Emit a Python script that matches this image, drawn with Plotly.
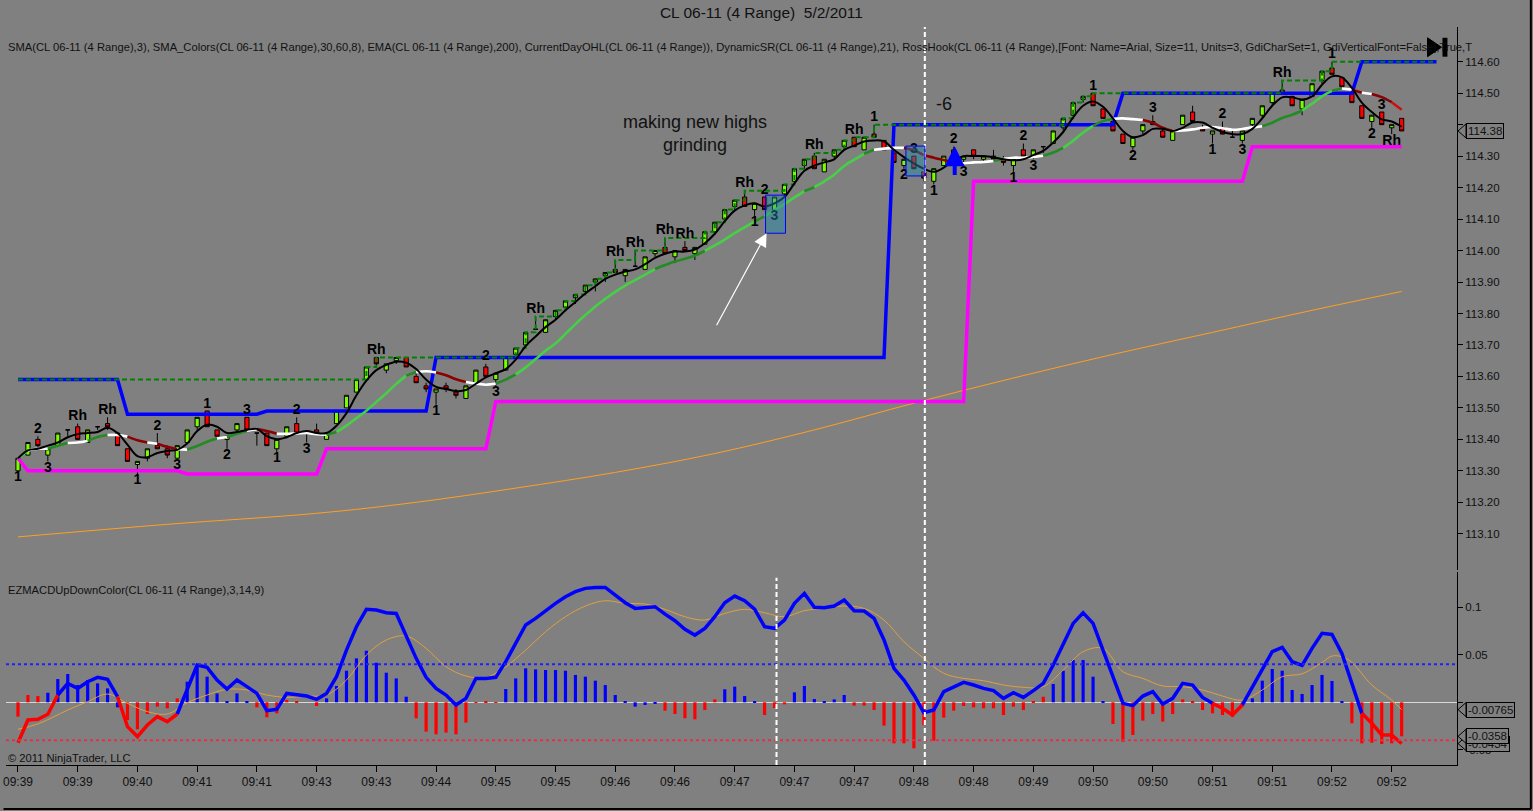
import numpy as np
import pandas as pd
import plotly.graph_objects as go
from plotly.subplots import make_subplots

# ---- CL 06-11, 4 tick range bars, 5/2/2011 ----
opens = [113.30, 113.35, 113.40, 113.35, 113.38, 113.43, 113.44, 113.39, 113.44, 113.45,
         113.42, 113.37, 113.32, 113.34, 113.38, 113.37, 113.34, 113.39, 113.44, 113.49,
         113.43, 113.40, 113.43, 113.47, 113.42, 113.42, 113.37, 113.41, 113.45, 113.42,
         113.43, 113.40, 113.45, 113.50, 113.55, 113.59, 113.66, 113.62, 113.65, 113.66,
         113.60, 113.57, 113.55, 113.57, 113.55, 113.53, 113.58, 113.63, 113.59, 113.62,
         113.67, 113.70, 113.75, 113.74, 113.79, 113.82, 113.85, 113.87, 113.90, 113.92,
         113.94, 113.92, 113.95, 113.94, 113.99, 114.01, 113.98, 114.01, 113.99, 114.02,
         114.06, 114.10, 114.14, 114.17, 114.13, 114.17, 114.13, 114.18, 114.22, 114.27,
         114.30, 114.25, 114.30, 114.33, 114.36, 114.32, 114.37, 114.35, 114.31, 114.27,
         114.30, 114.25, 114.22, 114.27, 114.32, 114.29, 114.32, 114.29, 114.30, 114.29,
         114.27, 114.32, 114.30, 114.33, 114.34, 114.39, 114.43, 114.48, 114.50, 114.45,
         114.41, 114.37, 114.33, 114.38, 114.41, 114.38, 114.35, 114.40, 114.44, 114.39,
         114.37, 114.39, 114.36, 114.35, 114.40, 114.43, 114.47, 114.51, 114.49, 114.45,
         114.49, 114.54, 114.58, 114.55, 114.50, 114.46, 114.41, 114.44, 114.39, 114.42]
highs = [113.34, 113.39, 113.41, 113.37, 113.42, 113.43, 113.45, 113.43, 113.44, 113.47,
         113.42, 113.37, 113.33, 113.37, 113.42, 113.38, 113.38, 113.43, 113.47, 113.49,
         113.43, 113.41, 113.45, 113.47, 113.42, 113.42, 113.40, 113.44, 113.47, 113.42,
         113.45, 113.42, 113.49, 113.54, 113.59, 113.63, 113.66, 113.64, 113.66, 113.66,
         113.61, 113.58, 113.56, 113.58, 113.56, 113.57, 113.62, 113.64, 113.61, 113.66,
         113.69, 113.74, 113.79, 113.78, 113.81, 113.84, 113.86, 113.89, 113.91, 113.93,
         113.97, 113.94, 114.00, 113.98, 114.00, 114.04, 114.00, 114.03, 114.01, 114.06,
         114.09, 114.13, 114.16, 114.19, 114.15, 114.17, 114.17, 114.21, 114.26, 114.29,
         114.31, 114.29, 114.32, 114.35, 114.36, 114.36, 114.40, 114.35, 114.31, 114.29,
         114.30, 114.25, 114.26, 114.30, 114.33, 114.30, 114.32, 114.30, 114.32, 114.30,
         114.29, 114.34, 114.32, 114.33, 114.38, 114.42, 114.47, 114.49, 114.50, 114.45,
         114.41, 114.37, 114.36, 114.40, 114.43, 114.39, 114.38, 114.43, 114.46, 114.40,
         114.38, 114.41, 114.38, 114.38, 114.42, 114.46, 114.50, 114.54, 114.49, 114.48,
         114.53, 114.57, 114.60, 114.55, 114.50, 114.46, 114.43, 114.44, 114.40, 114.42]
lows = [113.30, 113.35, 113.37, 113.33, 113.38, 113.41, 113.40, 113.39, 113.43, 113.43,
        113.38, 113.33, 113.29, 113.33, 113.37, 113.34, 113.34, 113.39, 113.43, 113.44,
        113.41, 113.37, 113.42, 113.43, 113.38, 113.38, 113.36, 113.41, 113.42, 113.39,
        113.42, 113.40, 113.45, 113.50, 113.55, 113.59, 113.63, 113.61, 113.64, 113.63,
        113.58, 113.55, 113.51, 113.55, 113.53, 113.53, 113.58, 113.60, 113.57, 113.62,
        113.66, 113.70, 113.75, 113.74, 113.78, 113.81, 113.83, 113.86, 113.87, 113.90,
        113.93, 113.90, 113.95, 113.94, 113.98, 113.99, 113.96, 114.00, 113.97, 114.02,
        114.05, 114.09, 114.13, 114.14, 114.11, 114.13, 114.13, 114.17, 114.22, 114.26,
        114.26, 114.25, 114.29, 114.32, 114.33, 114.32, 114.36, 114.32, 114.28, 114.26,
        114.26, 114.22, 114.21, 114.27, 114.30, 114.27, 114.29, 114.28, 114.29, 114.27,
        114.25, 114.30, 114.29, 114.31, 114.34, 114.38, 114.43, 114.47, 114.46, 114.42,
        114.38, 114.34, 114.32, 114.37, 114.40, 114.36, 114.35, 114.40, 114.41, 114.38,
        114.34, 114.37, 114.36, 114.34, 114.39, 114.42, 114.46, 114.50, 114.46, 114.43,
        114.49, 114.53, 114.56, 114.52, 114.47, 114.42, 114.39, 114.40, 114.37, 114.38]
closes = [113.34, 113.39, 113.38, 113.37, 113.42, 113.43, 113.40, 113.43, 113.44, 113.44,
          113.38, 113.33, 113.33, 113.37, 113.37, 113.35, 113.38, 113.43, 113.47, 113.44,
          113.41, 113.41, 113.45, 113.43, 113.42, 113.38, 113.40, 113.44, 113.42, 113.42,
          113.42, 113.42, 113.49, 113.54, 113.59, 113.63, 113.64, 113.64, 113.66, 113.63,
          113.58, 113.56, 113.56, 113.56, 113.54, 113.57, 113.62, 113.60, 113.61, 113.66,
          113.69, 113.74, 113.75, 113.78, 113.81, 113.84, 113.86, 113.89, 113.91, 113.93,
          113.93, 113.94, 113.95, 113.98, 114.00, 113.99, 114.00, 114.00, 114.01, 114.06,
          114.09, 114.13, 114.16, 114.14, 114.15, 114.13, 114.17, 114.21, 114.26, 114.29,
          114.26, 114.29, 114.32, 114.35, 114.33, 114.36, 114.36, 114.32, 114.28, 114.29,
          114.26, 114.23, 114.26, 114.30, 114.30, 114.30, 114.30, 114.30, 114.29, 114.28,
          114.29, 114.30, 114.32, 114.33, 114.38, 114.42, 114.47, 114.49, 114.46, 114.42,
          114.38, 114.34, 114.36, 114.40, 114.40, 114.36, 114.38, 114.43, 114.41, 114.38,
          114.38, 114.37, 114.36, 114.38, 114.42, 114.46, 114.50, 114.50, 114.46, 114.48,
          114.53, 114.57, 114.56, 114.52, 114.47, 114.42, 114.43, 114.40, 114.40, 114.38]
n_bars = len(closes)
bars = list(range(n_bars))

tick_bars = list(range(0, 139, 6))
tick_labels = ["09:39", "09:39", "09:40", "09:41", "09:41", "09:43", "09:43", "09:44",
               "09:45", "09:45", "09:46", "09:46", "09:47", "09:47", "09:47", "09:48",
               "09:48", "09:49", "09:50", "09:50", "09:51", "09:51", "09:52", "09:52"]
price_ticks = [113.10, 113.20, 113.30, 113.40, 113.50, 113.60, 113.70, 113.80,
               113.90, 114.00, 114.10, 114.20, 114.30, 114.40, 114.50, 114.60]
price_tick_text = ["113.10", "113.20", "113.30", "113.40", "113.50", "113.60", "113.70",
                   "113.80", "113.90", "114.00", "114.10", "114.20", "114.30", "",
                   "114.50", "114.60"]
macd_ticks = [-0.05, 0, 0.05, 0.1]
macd_tick_text = ["-0.05", "", "0.05", "0.1"]

# EMA(200) at a few bars
ema_bars = [0, 15, 30, 40, 50, 60, 70, 80, 90, 100, 110, 120, 130, 139]
ema_vals = [113.09, 113.13, 113.165, 113.20, 113.245, 113.295, 113.355, 113.43,
            113.515, 113.595, 113.67, 113.74, 113.81, 113.87]

# DynamicSR steps (bar where a level starts)
res_start = [0, 11, 25, 42, 88, 111, 135]
res_level = [113.59, 113.48, 113.49, 113.66, 114.40, 114.50, 114.60]
sup_start = [0, 1, 17, 31, 48, 96, 124]
sup_level = [113.34, 113.30, 113.29, 113.37, 113.52, 114.22, 114.33]
prior_day_high = 113.59

# RossHook labels
above_bars = [2, 6, 9, 14, 19, 23, 28, 36, 47, 52, 60, 62, 65, 67, 73, 75, 80, 84, 86,
              90, 94, 101, 108, 114, 121, 127, 132, 137]
above_text = ["2", "Rh", "Rh", "2", "1", "3", "2", "Rh", "2", "Rh", "Rh", "Rh", "Rh", "Rh",
              "Rh", "2", "Rh", "Rh", "1", "3", "2", "2", "1", "3", "2", "Rh", "1", "3"]
below_bars = [0, 3, 12, 16, 21, 26, 29, 42, 48, 74, 76, 89, 92, 95, 100, 102, 112, 120,
              123, 136, 138]
below_text = ["1", "3", "1", "3", "2", "1", "3", "1", "3", "1", "3", "2", "1", "3", "1",
              "3", "2", "1", "3", "2", "Rh"]

# EZMACDUpDownColor(3,14,9)
macd = [-0.0425, -0.0186, -0.0179, -0.0126, 0.0077, 0.0200, 0.0147, 0.0217, 0.0263, 0.0242,
        0.0059, -0.0256, -0.0361, -0.0239, -0.0151, -0.0203, -0.0123, 0.0130, 0.0393, 0.0368,
        0.0235, 0.0140, 0.0235, 0.0165, 0.0094, -0.0088, -0.0074, 0.0094, 0.0077, 0.0066,
        0.0031, 0.0094, 0.0270, 0.0550, 0.0796, 0.0979, 0.0972, 0.0943, 0.0936, 0.0708,
        0.0463, 0.0263, 0.0147, 0.0077, -0.0028, 0.0042, 0.0252, 0.0252, 0.0263, 0.0428,
        0.0614, 0.0814, 0.0884, 0.0965, 0.1042, 0.1112, 0.1165, 0.1200, 0.1210, 0.1210,
        0.1129, 0.1049, 0.0989, 0.1000, 0.1007, 0.0929, 0.0859, 0.0768, 0.0708, 0.0779,
        0.0902, 0.1049, 0.1119, 0.1070, 0.0980, 0.0796, 0.0779, 0.0866, 0.1042, 0.1147,
        0.1000, 0.0996, 0.1014, 0.1077, 0.0965, 0.0961, 0.0884, 0.0656, 0.0358, 0.0235,
        0.0077, -0.0109, -0.0081, 0.0112, 0.0158, 0.0210, 0.0182, 0.0147, 0.0123, 0.0042,
        0.0102, 0.0052, 0.0123, 0.0200, 0.0393, 0.0614, 0.0831, 0.0943, 0.0831, 0.0550,
        0.0270, -0.0011, -0.0035, 0.0066, 0.0112, -0.0018, 0.0042, 0.0200, 0.0182, 0.0052,
        -0.0011, -0.0063, -0.0134, -0.0028, 0.0165, 0.0358, 0.0533, 0.0579, 0.0428, 0.0390,
        0.0568, 0.0726, 0.0715, 0.0515, 0.0200, -0.0116, -0.0221, -0.0344, -0.0344, -0.0434]
macd_red_from = [0, 10, 120, 135]
macd_red_to = [4, 16, 123, 139]
hist = [-0.0151, 0.0077, 0.0066, 0.0101, 0.0245, 0.0298, 0.0182, 0.0235, 0.0200, 0.0147,
        -0.0053, -0.0186, -0.0284, -0.0123, -0.0046, -0.0063, 0.0042, 0.0217, 0.0375, 0.0270,
        0.0094, 0.0014, 0.0094, 0.0007, -0.0053, -0.0158, -0.0116, 0.0025, 0.0007, 0.0,
        -0.0039, 0.0042, 0.0172, 0.0333, 0.0463, 0.0543, 0.0417, 0.0312, 0.0252, 0.0059,
        -0.0168, -0.0309, -0.0337, -0.0319, -0.0337, -0.0214, -0.0004, 0.0005, -0.0005, 0.0140,
        0.0252, 0.0358, 0.0347, 0.0340, 0.0340, 0.0333, 0.0288, 0.0270, 0.0228, 0.0182,
        0.0077, 0.0005, -0.0046, -0.0028, -0.0010, -0.0088, -0.0123, -0.0168, -0.0179, -0.0081,
        0.0031, 0.0137, 0.0165, 0.0066, 0.0010, -0.0134, -0.0060, -0.0021, 0.0105, 0.0172,
        0.0035, 0.0014, 0.0031, 0.0077, -0.0035, -0.0035, -0.0081, -0.0246, -0.0432, -0.0432,
        -0.0484, -0.0240, -0.0404, -0.0161, -0.0088, -0.0039, -0.0053, -0.0063, -0.0063, -0.0134,
        -0.0046, -0.0081, 0.0005, 0.0059, 0.0193, 0.0333, 0.0445, 0.0445, 0.0270, 0.0005,
        -0.0228, -0.0414, -0.0344, -0.0193, -0.0123, -0.0203, -0.0123, 0.0031, 0.0007, -0.0081,
        -0.0116, -0.0134, -0.0151, -0.0046, 0.0042, 0.0228, 0.0351, 0.0333, 0.0130, 0.0088,
        0.0182, 0.0288, 0.0225, 0.0005, -0.0221, -0.0432, -0.0425, -0.0439, -0.0432, -0.0358]
hist_colors = ("rrrbbbbbbb" "brrrrrrbbb" "bbbbrrrrrr" "rbbbbbbbbb" "rrrrrrrrrb"
               "bbbbbbbbbb" "bbbbbrrrrr" "rbbbbrrrbb" "bbbbrrrrrr" "rrrrrrrrrr"
               "rrrrbbbbbb" "rrrrrrrrrr" "rrrrbbbbbb" "bbbbrrrrrr")
sig_bars = [0, 2, 5, 7, 9, 11, 13, 15, 17, 19, 21, 23, 25, 27, 29, 31, 33, 35, 37, 39,
            41, 43, 45, 47, 49, 51, 53, 55, 57, 59, 61, 63, 65, 67, 69, 71, 73, 75, 77, 79,
            81, 83, 85, 87, 89, 91, 93, 95, 97, 99, 101, 103, 105, 107, 109, 111, 113, 115,
            117, 119, 121, 123, 125, 127, 129, 131, 132, 133, 134, 136, 138, 139]
sig_vals = [-0.0284, -0.0228, -0.0081, 0.0007, 0.0087, -0.0011, -0.0098, -0.0123, -0.0004, 0.0077,
            0.0137, 0.0130, 0.0077, 0.0052, 0.0066, 0.0077, 0.0235, 0.0498, 0.0656, 0.0698,
            0.0568, 0.0375, 0.0277, 0.0263, 0.0375, 0.0550, 0.0743, 0.0901, 0.1014, 0.1070,
            0.1042, 0.1035, 0.0979, 0.0901, 0.0866, 0.0936, 0.0979, 0.0943, 0.0901, 0.0965,
            0.0989, 0.1014, 0.0989, 0.0866, 0.0638, 0.0463, 0.0305, 0.0252, 0.0228, 0.0182,
            0.0158, 0.0165, 0.0340, 0.0533, 0.0568, 0.0322, 0.0252, 0.0172, 0.0165, 0.0130,
            0.0066, 0.0024, 0.0130, 0.0270, 0.0300, 0.0420, 0.0487, 0.0480, 0.0420, 0.0182,
            0.0024, -0.0077]

FONT = "Arial, Liberation Sans, sans-serif"
BG = "#808080"
TXT = "#111111"


def expand_steps(starts, levels, n):
    out, k = [], 0
    for i in range(n):
        while k + 1 < len(starts) and starts[k + 1] <= i:
            k += 1
        out.append(levels[k])
    return out


def add_runs(fig, xs, ys, cols, width, shape, row):
    # one trace per run of equally coloured segments (cols[j] = segment j -> j+1)
    start = 0
    for j in range(1, len(cols) + 1):
        if j == len(cols) or cols[j] != cols[start]:
            fig.add_trace(go.Scatter(x=xs[start:j + 1], y=ys[start:j + 1], mode="lines",
                                     line=dict(color=cols[start], width=width, shape=shape),
                                     hoverinfo="skip"), row=row, col=1)
            start = j


fig = make_subplots(rows=2, cols=1, shared_xaxes=True, vertical_spacing=0.003,
                    row_heights=[0.74, 0.26])

# EMA 200
fig.add_trace(go.Scatter(x=ema_bars, y=ema_vals, mode="lines",
                         line=dict(color="#FFA020", width=1, shape="spline"),
                         hoverinfo="skip"), row=1, col=1)

# DynamicSR
ext = bars + [142.5]
res = expand_steps(res_start, res_level, n_bars)
sup = expand_steps(sup_start, sup_level, n_bars)
fig.add_trace(go.Scatter(x=ext, y=res + [res[-1]], mode="lines",
                         line=dict(color="#0000FF", width=3.5), hoverinfo="skip"), row=1, col=1)
fig.add_trace(go.Scatter(x=bars, y=sup, mode="lines",
                         line=dict(color="#FF00FF", width=3.5), hoverinfo="skip"), row=1, col=1)

# CurrentDayOHL high
day_high = list(np.maximum.accumulate(np.maximum(highs, prior_day_high)))
fig.add_trace(go.Scatter(x=ext, y=day_high + [day_high[-1]], mode="lines",
                         line=dict(color="#008000", width=2, dash="5px,3px", shape="hv"),
                         hoverinfo="skip"), row=1, col=1)

# candles
fig.add_trace(go.Candlestick(x=bars, open=opens, high=highs, low=lows, close=closes,
                             increasing=dict(line=dict(color="black", width=1), fillcolor="#7CFC00"),
                             decreasing=dict(line=dict(color="black", width=1), fillcolor="#FF0000"),
                             whiskerwidth=0, hoverinfo="skip"), row=1, col=1)

# SMA_Colors (period 8, 30/60 degree bands)
sma8 = pd.Series(closes).rolling(8, min_periods=1).mean()
slope = (sma8.diff() / 0.01).tolist()[1:]
sma_cols = []
for s in slope:
    if s > 1.73:
        sma_cols.append("#45D045")
    elif s > 0.577:
        sma_cols.append("#228B22")
    elif s >= -0.577:
        sma_cols.append("#FFFFFF")
    elif s >= -1.73:
        sma_cols.append("#8B0000")
    else:
        sma_cols.append("#CC1010")
add_runs(fig, bars, sma8.tolist(), sma_cols, 2.6, "spline", 1)

# SMA 3
sma3 = pd.Series(closes).rolling(3, min_periods=1).mean()
fig.add_trace(go.Scatter(x=bars, y=sma3, mode="lines",
                         line=dict(color="black", width=2, shape="spline"),
                         hoverinfo="skip"), row=1, col=1)

# RossHook labels
fig.add_trace(go.Scatter(x=above_bars, y=[highs[b] for b in above_bars], mode="text",
                         text=above_text, textposition="top center",
                         textfont=dict(family=FONT, size=14, color="black", weight="bold"),
                         hoverinfo="skip"), row=1, col=1)
fig.add_trace(go.Scatter(x=below_bars, y=[lows[b] for b in below_bars], mode="text",
                         text=below_text, textposition="bottom center",
                         textfont=dict(family=FONT, size=14, color="black", weight="bold"),
                         hoverinfo="skip"), row=1, col=1)

# ---- MACD panel ----
fig.add_trace(go.Bar(x=bars, y=hist, width=0.32,
                     marker=dict(color=["#0000FF" if c == "b" else "#FF0000" for c in hist_colors],
                                 line=dict(width=0)),
                     hoverinfo="skip"), row=2, col=1)
fig.add_trace(go.Scatter(x=sig_bars, y=sig_vals, mode="lines",
                         line=dict(color="#E0A040", width=1, shape="spline"),
                         hoverinfo="skip"), row=2, col=1)
macd_cols = []
for j in range(n_bars - 1):
    red = any(a <= j and j + 1 <= b for a, b in zip(macd_red_from, macd_red_to))
    macd_cols.append("#FF0000" if red else "#0000FF")
add_runs(fig, bars, macd, macd_cols, 3.5, "linear", 2)

fig.add_hline(y=0.04, row=2, col=1, line=dict(color="#2020FF", width=2, dash="dot"))
fig.add_hline(y=-0.04, row=2, col=1, line=dict(color="#E0304A", width=2, dash="dot"))

# ---- axes ----
x_range = [-1.203, 144.56]
fig.update_xaxes(range=x_range, showgrid=False, zeroline=False, rangeslider_visible=False,
                 showticklabels=False, ticks="", row=1, col=1)
fig.update_xaxes(range=x_range, showgrid=False, zeroline=False, rangeslider_visible=False,
                 tickvals=tick_bars, ticktext=tick_labels, ticks="outside", ticklen=6,
                 tickcolor="black", showline=True, linecolor="black",
                 ticklabeloverflow="allow",
                 tickfont=dict(family=FONT, size=12, color=TXT), row=2, col=1)
fig.update_yaxes(range=[112.9848, 114.7103], side="right", tickvals=price_ticks,
                 ticktext=price_tick_text, ticks="outside", ticklen=5, tickcolor="black",
                 showline=True, linecolor="black", showgrid=False, zeroline=False,
                 tickfont=dict(family=FONT, size=11.5, color=TXT), domain=[0.2642, 1.0],
                 row=1, col=1)
fig.update_yaxes(range=[-0.066, 0.1372], side="right", tickvals=macd_ticks,
                 ticktext=macd_tick_text, ticks="outside", ticklen=5,
                 tickcolor="black", showline=True, linecolor="black", showgrid=False,
                 zeroline=True, zerolinecolor="#D8D8D8", zerolinewidth=1,
                 tickfont=dict(family=FONT, size=11.5, color=TXT), domain=[0.0, 0.2615],
                 row=2, col=1)

shapes = [
    dict(type="rect", xref="paper", yref="paper", x0=0, x1=1, y0=0.2642, y1=1.0,
         line=dict(color="black", width=1.5)),
    dict(type="rect", xref="paper", yref="paper", x0=0, x1=1, y0=0.0, y1=0.2615,
         line=dict(color="black", width=1.5)),
    dict(type="line", xref="paper", yref="paper", x0=-0.0017, x1=1.0509, y0=-0.0596, y1=-0.0596,
         line=dict(color="black", width=2)),
    dict(type="line", xref="paper", yref="paper", x0=1.0509, x1=1.0509, y0=-0.0596, y1=1.04,
         line=dict(color="black", width=2)),
    dict(type="line", xref="x", yref="paper", x0=91.1, x1=91.1, y0=0, y1=1,
         line=dict(color="white", width=2, dash="5px,3px")),
    dict(type="line", xref="x2", yref="y2 domain", x0=76.2, x1=76.2, y0=0, y1=0.97,
         line=dict(color="white", width=2, dash="5px,3px")),
    dict(type="rect", xref="x", yref="y", x0=75.1, x1=77.1, y0=114.055, y1=114.176,
         fillcolor="rgba(30,140,175,0.45)", line=dict(color="#0000FF", width=1), layer="above"),
    dict(type="rect", xref="x", yref="y", x0=89.2, x1=91.1, y0=114.237, y1=114.332,
         fillcolor="rgba(30,140,175,0.45)", line=dict(color="#0000FF", width=1), layer="above"),
    dict(type="path", xref="x", yref="y", path="M141.6,114.676 L143.0,114.646 L141.6,114.616 Z",
         fillcolor="black", line=dict(color="black", width=1)),
    dict(type="rect", xref="x", yref="y", x0=143.1, x1=143.6, y0=114.616, y1=114.676,
         fillcolor="black", line=dict(color="black", width=0)),
]
for yv, yr in [(114.38, "y"), (-0.0434, "y2"), (-0.0358, "y2"), (-0.00765, "y2")]:
    shapes.append(dict(type="path", xref="paper", yref=yr, xsizemode="pixel", ysizemode="pixel",
                       xanchor=1, yanchor=yv, path="M1,0 L9,7 L9,-7 Z",
                       fillcolor=BG, line=dict(color="black", width=1)))

annotations = [
    dict(xref="paper", yref="paper", x=0, y=0.9729, xanchor="left", yanchor="middle", xshift=0,
         showarrow=False, font=dict(family=FONT, size=11.2, color=TXT),
         text="SMA(CL 06-11 (4 Range),3), SMA_Colors(CL 06-11 (4 Range),30,60,8), "
              "EMA(CL 06-11 (4 Range),200), CurrentDayOHL(CL 06-11 (4 Range)), "
              "DynamicSR(CL 06-11 (4 Range),21), RossHook(CL 06-11 (4 Range),[Font: Name=Arial, "
              "Size=11, Units=3, GdiCharSet=1, GdiVerticalFont=False],True,T"),
    dict(xref="paper", yref="paper", x=0, y=0.2371, xanchor="left", yanchor="middle", xshift=0,
         showarrow=False, font=dict(family=FONT, size=11.2, color=TXT),
         text="EZMACDUpDownColor(CL 06-11 (4 Range),3,14,9)"),
    dict(xref="paper", yref="paper", x=0, y=0.0095, xanchor="left", yanchor="middle", xshift=0,
         showarrow=False, font=dict(family=FONT, size=11.2, color=TXT),
         text="© 2011 NinjaTrader, LLC"),
    dict(xref="x", yref="y", x=68, y=114.373, showarrow=False,
         font=dict(family=FONT, size=18, color=TXT), text="making new highs<br>grinding"),
    dict(xref="x", yref="y", x=93, y=114.465, showarrow=False,
         font=dict(family=FONT, size=18, color=TXT), text="-6"),
    dict(xref="x", yref="y", x=75.2, y=114.055, ax=70.1, ay=113.758, axref="x", ayref="y",
         showarrow=True, arrowhead=2, arrowsize=2.2, arrowwidth=1.2, arrowcolor="white", text=""),
    dict(xref="x", yref="y", x=94.1, y=114.331, ax=94.1, ay=114.235, axref="x", ayref="y",
         showarrow=True, arrowhead=2, arrowsize=1, arrowwidth=4, arrowcolor="#0000FF", text=""),
]
for yv, yr, txt in [(114.38, "y", "114.38"), (-0.0434, "y2", "-0.0434"),
                    (-0.0358, "y2", "-0.0358"), (-0.00765, "y2", "-0.00765")]:
    annotations.append(dict(xref="paper", yref=yr, x=1, y=yv, xanchor="left", yanchor="middle",
                            xshift=9, showarrow=False, text=txt, bgcolor=BG, bordercolor="black",
                            borderwidth=1, borderpad=1,
                            font=dict(family=FONT, size=11.5, color=TXT)))

fig.update_layout(
    width=1533, height=811,
    margin=dict(l=3, r=76, t=27, b=46),
    paper_bgcolor=BG, plot_bgcolor=BG,
    showlegend=False, boxgap=0.4,
    title=dict(text="CL 06-11 (4 Range)\u00a0 5/2/2011", x=0.4967, xref="container",
               xanchor="center", y=0.984, yref="container", yanchor="middle",
               font=dict(family=FONT, size=15.5, color=TXT)),
    shapes=shapes, annotations=annotations,
)

fig.write_html("out.html", config={"displayModeBar": False},
               post_script="document.body.style.margin='0px';"
                           "document.body.style.overflow='hidden';")
